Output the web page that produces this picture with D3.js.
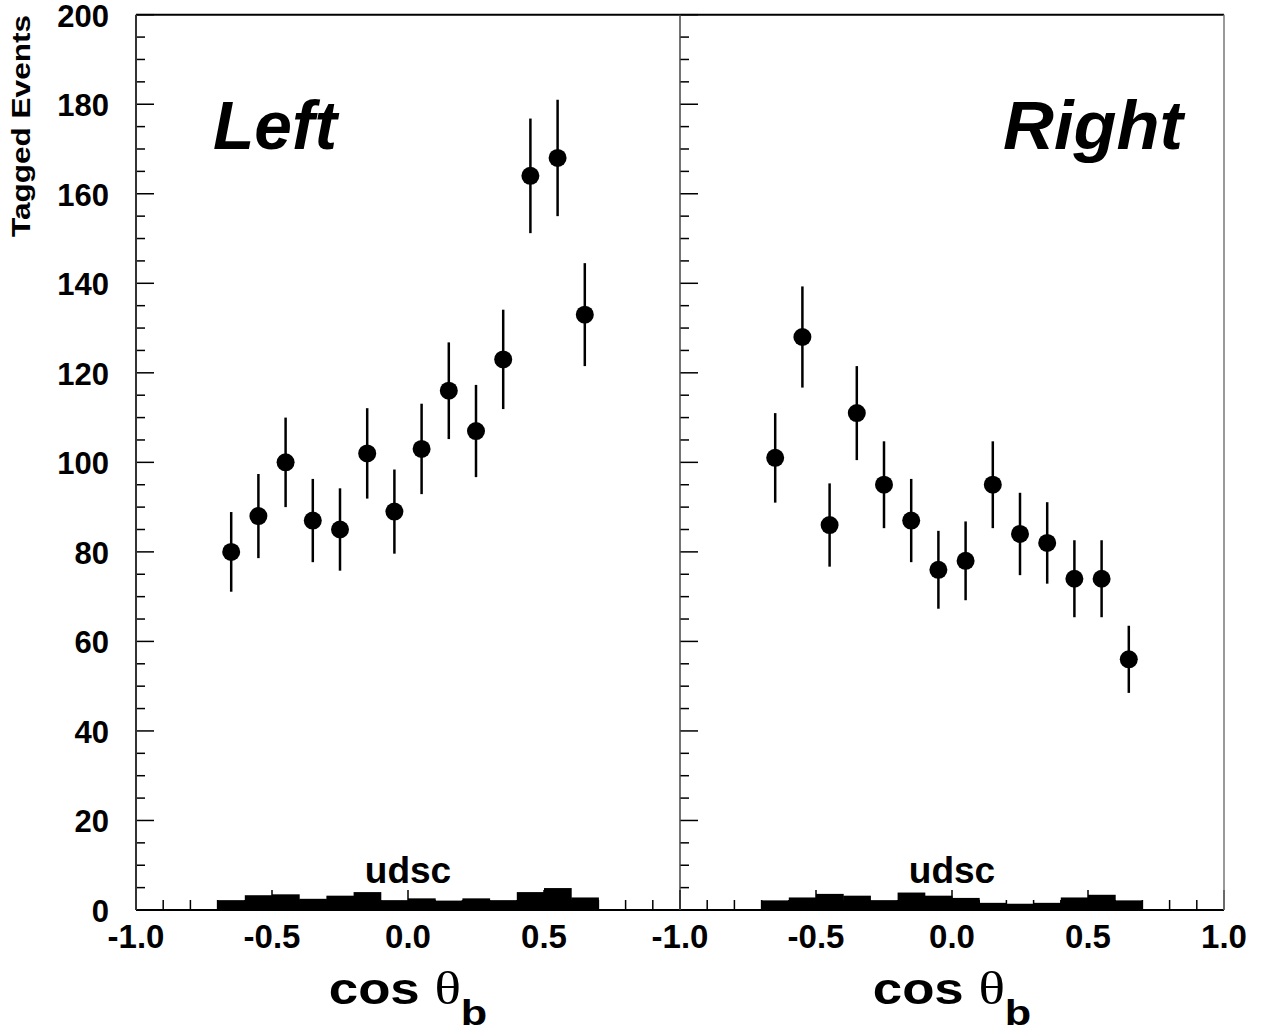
<!DOCTYPE html>
<html>
<head>
<meta charset="utf-8">
<script src="https://cdn.jsdelivr.net/npm/d3@7"></script>
<style>
  body { margin: 0; background: #fff; }
  text { font-family: "Liberation Sans", Arial, sans-serif; font-weight: bold; }
</style>
</head>
<body>
<svg id="chart" width="1271" height="1036"></svg>
<script>
// bin centres of cos theta_b (same for both panels)
const binCenters = [-0.65, -0.55, -0.45, -0.35, -0.25, -0.15, -0.05, 0.05, 0.15, 0.25, 0.35, 0.45, 0.55, 0.65];

// tagged events, left-handed beam
const leftCounts = [80, 88, 100, 87, 85, 102, 89, 103, 116, 107, 123, 164, 168, 133];
const leftErrors = [8.9, 9.4, 10.0, 9.3, 9.2, 10.1, 9.4, 10.1, 10.8, 10.3, 11.1, 12.8, 13.0, 11.5];
// udsc background, left
const leftUdsc = [2.2, 3.3, 3.5, 2.5, 3.2, 4.0, 2.2, 2.6, 2.1, 2.6, 2.2, 4.0, 4.9, 2.8];

// tagged events, right-handed beam
const rightCounts = [101, 128, 86, 111, 95, 87, 76, 78, 95, 84, 82, 74, 74, 56];
const rightErrors = [10.0, 11.3, 9.3, 10.5, 9.7, 9.3, 8.7, 8.8, 9.7, 9.2, 9.1, 8.6, 8.6, 7.5];
const rightUdsc = [2.15, 2.8, 3.6, 3.2, 2.2, 3.9, 3.2, 2.7, 1.6, 1.4, 1.6, 2.8, 3.4, 2.15];

const binWidth = 0.1;
const xTickLabels = ["-1.0", "-0.5", "0.0", "0.5", "1.0"];
const yTickValues = [0, 20, 40, 60, 80, 100, 120, 140, 160, 180, 200];

const svg = d3.select("#chart");
const plotTop = 14.7, plotBottom = 910;

const y = d3.scaleLinear().domain([0, 200]).range([plotBottom, plotTop]);

const panels = [
  { name: "Left", x0: 136, x1: 680, counts: leftCounts, errs: leftErrors, udsc: leftUdsc },
  { name: "Right", x0: 680, x1: 1224, counts: rightCounts, errs: rightErrors, udsc: rightUdsc }
];

panels.forEach((p, pi) => {
  const x = d3.scaleLinear().domain([-1, 1]).range([p.x0, p.x1]);
  const g = svg.append("g");

  // udsc histogram
  g.selectAll("rect.udsc")
    .data(p.udsc)
    .enter().append("rect")
      .attr("class", "udsc")
      .attr("x", (d, i) => x(binCenters[i] - binWidth / 2))
      .attr("width", (d, i) => x(binCenters[i] + binWidth / 2) - x(binCenters[i] - binWidth / 2) + 0.5)
      .attr("y", d => y(d))
      .attr("height", d => plotBottom - y(d))
      .attr("fill", "#000");

  // x axis ticks (drawn upward from bottom)
  const minor = d3.range(-10, 11).map(k => k / 10);
  g.selectAll("line.xt")
    .data(minor)
    .enter().append("line")
      .attr("class", "xt")
      .attr("x1", d => x(d)).attr("x2", d => x(d))
      .attr("y1", plotBottom)
      .attr("y2", (d, i) => plotBottom - (i % 5 === 0 ? 20 : 10))
      .attr("stroke", "#000").attr("stroke-width", 1.5);

  // y axis ticks on the left edge of each panel
  const yMinor = d3.range(0, 201, 5);
  g.selectAll("line.yt")
    .data(yMinor)
    .enter().append("line")
      .attr("class", "yt")
      .attr("x1", p.x0)
      .attr("x2", d => p.x0 + (d % 20 === 0 ? 18 : 9))
      .attr("y1", d => y(d)).attr("y2", d => y(d))
      .attr("stroke", "#000").attr("stroke-width", 1.5);

  // x tick labels
  const labs = pi === 0 ? xTickLabels.slice(0, 4) : xTickLabels;
  g.selectAll("text.xl")
    .data(labs)
    .enter().append("text")
      .attr("class", "xl")
      .attr("x", d => x(+d))
      .attr("y", 948)
      .attr("text-anchor", "middle")
      .attr("font-size", 33)
      .text(d => d);

  // error bars
  g.selectAll("line.err")
    .data(p.counts)
    .enter().append("line")
      .attr("class", "err")
      .attr("x1", (d, i) => x(binCenters[i])).attr("x2", (d, i) => x(binCenters[i]))
      .attr("y1", (d, i) => y(d - p.errs[i]))
      .attr("y2", (d, i) => y(d + p.errs[i]))
      .attr("stroke", "#000").attr("stroke-width", 2.5);

  // points
  g.selectAll("circle.pt")
    .data(p.counts)
    .enter().append("circle")
      .attr("class", "pt")
      .attr("cx", (d, i) => x(binCenters[i]))
      .attr("cy", d => y(d))
      .attr("r", 9)
      .attr("fill", "#000");

  // panel name
  g.append("text")
    .attr("x", pi === 0 ? 213 : 1003)
    .attr("y", 149)
    .attr("font-size", 68)
    .attr("font-style", "italic")
    .attr("textLength", pi === 0 ? 124 : 180)
    .attr("lengthAdjust", "spacingAndGlyphs")
    .text(p.name);

  // udsc label
  g.append("text")
    .attr("x", x(0))
    .attr("y", 883)
    .attr("text-anchor", "middle")
    .attr("font-size", 37)
    .text("udsc");

  // x title (stretched horizontally like the original)
  const t = g.append("text")
    .attr("transform", `translate(${x(0)},1004) scale(1.2,1)`)
    .attr("text-anchor", "middle")
    .attr("font-size", 44);
  t.append("tspan").text("cos ");
  t.append("tspan").attr("font-family", "'Liberation Serif', 'Times New Roman', serif")
    .attr("font-weight", "normal").attr("font-size", 46).text("θ");
  t.append("tspan").attr("font-size", 36).attr("dy", 21).text("b");
});

// frame
svg.append("line").attr("x1", 136).attr("x2", 1224).attr("y1", plotTop).attr("y2", plotTop)
  .attr("stroke", "#000").attr("stroke-width", 2);
svg.append("line").attr("x1", 136).attr("x2", 1224).attr("y1", plotBottom).attr("y2", plotBottom)
  .attr("stroke", "#000").attr("stroke-width", 2);
svg.append("line").attr("x1", 136).attr("x2", 136).attr("y1", plotTop).attr("y2", plotBottom)
  .attr("stroke", "#333").attr("stroke-width", 2);
svg.append("line").attr("x1", 680).attr("x2", 680).attr("y1", plotTop).attr("y2", plotBottom)
  .attr("stroke", "#444").attr("stroke-width", 1.5);
svg.append("line").attr("x1", 1224).attr("x2", 1224).attr("y1", plotTop).attr("y2", plotBottom)
  .attr("stroke", "#777").attr("stroke-width", 1.5);

// y tick labels
svg.selectAll("text.yl")
  .data(yTickValues)
  .enter().append("text")
    .attr("class", "yl")
    .attr("x", 109)
    .attr("y", d => y(d) + 12)
    .attr("text-anchor", "end")
    .attr("font-size", 31)
    .text(d => d);

// y title
svg.append("text")
  .attr("transform", "translate(30,15) rotate(-90)")
  .attr("text-anchor", "end")
  .attr("font-size", 25)
  .attr("textLength", 222)
  .attr("lengthAdjust", "spacingAndGlyphs")
  .text("Tagged Events");
</script>
</body>
</html>
